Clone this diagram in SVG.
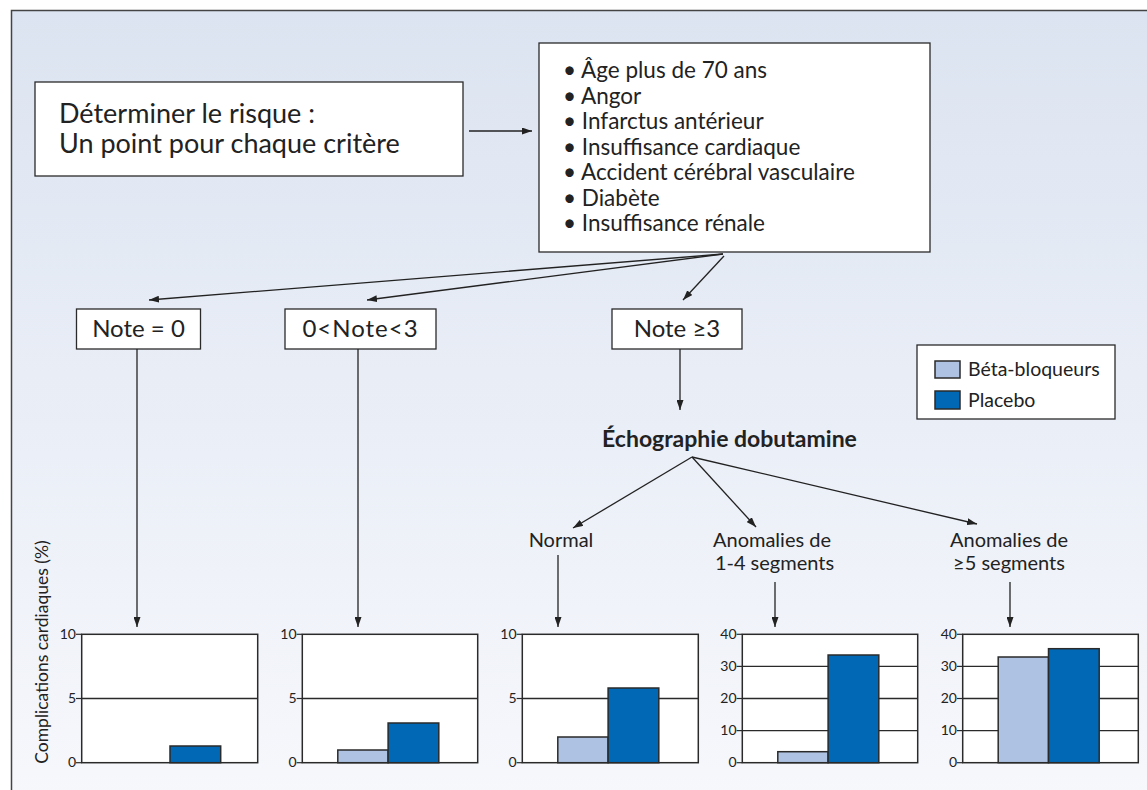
<svg xmlns="http://www.w3.org/2000/svg" width="1147" height="790" viewBox="0 0 1147 790">
<defs>
<linearGradient id="bg" x1="0" y1="0" x2="0" y2="1">
<stop offset="0" stop-color="#dce4f1"/>
<stop offset="1" stop-color="#f7f8fc"/>
</linearGradient>
<marker id="ah" viewBox="0 0 10 7" refX="10" refY="3.5" markerWidth="10" markerHeight="7" markerUnits="userSpaceOnUse" orient="auto">
<path d="M0,0 L10,3.5 L0,7 z" fill="#222"/>
</marker>
</defs>
<style>
.box{fill:#fff;stroke:#2a2a2a;stroke-width:1.3}
.t{font-family:Lato,"Open Sans",sans-serif;fill:#222}
.c{text-anchor:middle}
.conn line{stroke:#222;stroke-width:1.3;marker-end:url(#ah)}
.plot{fill:#fff;stroke:#2a2a2a;stroke-width:1.5}
.grid{stroke:#2a2a2a;stroke-width:1.3}
.tk{stroke:#2a2a2a;stroke-width:1.2}
.bb{fill:#aec3e3;stroke:#2a2a2a;stroke-width:1.5}
.pl{fill:#0068b5;stroke:#2a2a2a;stroke-width:1.5}
.tick{font-family:Lato,"Open Sans",sans-serif;font-size:14px;fill:#222;text-anchor:end}
</style>
<rect x="0" y="0" width="1147" height="790" fill="#fff"/>
<rect x="11.5" y="10.5" width="1150" height="800" fill="url(#bg)" stroke="#444" stroke-width="1.5"/>

<g id="box-risque">
<rect class="box" x="35" y="82" width="428" height="94"/>
<text class="t" x="59" y="123" font-size="27">Déterminer le risque :</text>
<text class="t" x="59" y="153" font-size="27">Un point pour chaque critère</text>
</g>

<g id="box-criteres">
<rect class="box" x="539" y="43" width="391" height="209"/>
<g class="t" font-size="22.5">
<text x="563" y="78">• Âge plus de 70 ans</text>
<text x="563" y="103.5">• Angor</text>
<text x="563" y="129">• Infarctus antérieur</text>
<text x="563" y="154.5">• Insuffisance cardiaque</text>
<text x="563" y="180">• Accident cérébral vasculaire</text>
<text x="563" y="205.5">• Diabète</text>
<text x="563" y="231">• Insuffisance rénale</text>
</g>
</g>

<g id="note0">
<rect class="box" x="76.5" y="309" width="124" height="40"/>
<text class="t c" x="138.5" y="337" font-size="24">Note = 0</text>
</g>
<g id="note1-2">
<rect class="box" x="285" y="309" width="151" height="40"/>
<text class="t c" x="360.5" y="337" font-size="24" letter-spacing="1">0&lt;Note&lt;3</text>
</g>
<g id="note3">
<rect class="box" x="612" y="309" width="130" height="40"/>
<text class="t c" x="677" y="337" font-size="24">Note ≥3</text>
</g>

<g id="echo">
<text class="t c" x="729.5" y="447" font-size="23" font-weight="bold">Échographie dobutamine</text>
</g>
<g id="normal">
<text class="t c" x="561" y="547" font-size="20">Normal</text>
</g>
<g id="anom14">
<text class="t c" x="772" y="547" font-size="20">Anomalies de</text>
<text class="t c" x="774.5" y="570" font-size="20">1-4 segments</text>
</g>
<g id="anom5">
<text class="t c" x="1009" y="547" font-size="20">Anomalies de</text>
<text class="t c" x="1009" y="570" font-size="20">≥5 segments</text>
</g>

<g id="legend">
<rect class="box" x="917" y="345" width="198" height="74"/>
<rect class="bb" x="935" y="361" width="25" height="17" stroke-width="1.3"/>
<rect class="pl" x="935" y="391" width="25" height="18" stroke-width="1.3"/>
<text class="t" x="968" y="376" font-size="19.5">Béta-bloqueurs</text>
<text class="t" x="968" y="407" font-size="19.5">Placebo</text>
</g>

<g id="connectors" class="conn">
<line x1="469" y1="131" x2="532" y2="131"/>
<line x1="723" y1="254" x2="149" y2="300"/>
<line x1="723" y1="254" x2="367" y2="300"/>
<line x1="724" y1="256" x2="683" y2="300"/>
<line x1="680" y1="349" x2="680" y2="410"/>
<line x1="692" y1="457" x2="573" y2="528"/>
<line x1="692" y1="457" x2="756" y2="527"/>
<line x1="692" y1="457" x2="977" y2="524"/>
<line x1="137" y1="349" x2="137" y2="627"/>
<line x1="358" y1="349" x2="358" y2="627"/>
<line x1="558" y1="555" x2="558" y2="627"/>
<line x1="775" y1="582" x2="775" y2="627"/>
<line x1="1010" y1="582" x2="1010" y2="627"/>
</g>

<g id="axis-label">
<text class="t c" transform="translate(48,652) rotate(-90)" font-size="17.5">Complications cardiaques (%)</text>
</g>

<g id="chart1">
<rect class="plot" x="81.7" y="634.3" width="176" height="128.4"/>
<line class="grid" x1="81.7" y1="698.5" x2="257.7" y2="698.5"/>
<rect class="pl" x="170" y="746" width="50.7" height="16.7"/>
<line class="tk" x1="76" y1="634.3" x2="81.7" y2="634.3"/>
<line class="tk" x1="76" y1="698.5" x2="81.7" y2="698.5"/>
<line class="tk" x1="76" y1="762.7" x2="81.7" y2="762.7"/>
<text class="tick" x="76" y="639">10</text>
<text class="tick" x="76" y="703">5</text>
<text class="tick" x="76" y="767">0</text>
</g>

<g id="chart2">
<rect class="plot" x="302.3" y="634.3" width="175.4" height="128.4"/>
<line class="grid" x1="302.3" y1="698.5" x2="477.7" y2="698.5"/>
<rect class="bb" x="337.8" y="750" width="50.3" height="12.7"/>
<rect class="pl" x="388.1" y="723" width="50.7" height="39.7"/>
<line class="tk" x1="296.6" y1="634.3" x2="302.3" y2="634.3"/>
<line class="tk" x1="296.6" y1="698.5" x2="302.3" y2="698.5"/>
<line class="tk" x1="296.6" y1="762.7" x2="302.3" y2="762.7"/>
<text class="tick" x="296.6" y="639">10</text>
<text class="tick" x="296.6" y="703">5</text>
<text class="tick" x="296.6" y="767">0</text>
</g>

<g id="chart3">
<rect class="plot" x="522.3" y="634.3" width="176" height="128.4"/>
<line class="grid" x1="522.3" y1="698.5" x2="698.3" y2="698.5"/>
<rect class="bb" x="557.8" y="737" width="50.3" height="25.7"/>
<rect class="pl" x="608.1" y="688" width="50.7" height="74.7"/>
<line class="tk" x1="516.6" y1="634.3" x2="522.3" y2="634.3"/>
<line class="tk" x1="516.6" y1="698.5" x2="522.3" y2="698.5"/>
<line class="tk" x1="516.6" y1="762.7" x2="522.3" y2="762.7"/>
<text class="tick" x="516.6" y="639">10</text>
<text class="tick" x="516.6" y="703">5</text>
<text class="tick" x="516.6" y="767">0</text>
</g>

<g id="chart4">
<rect class="plot" x="742.3" y="634.3" width="175.4" height="128.4"/>
<line class="grid" x1="742.3" y1="666.4" x2="917.7" y2="666.4"/>
<line class="grid" x1="742.3" y1="698.5" x2="917.7" y2="698.5"/>
<line class="grid" x1="742.3" y1="730.6" x2="917.7" y2="730.6"/>
<rect class="bb" x="777.8" y="751.7" width="50.3" height="11"/>
<rect class="pl" x="828.1" y="655" width="50.7" height="107.7"/>
<line class="tk" x1="736.6" y1="634.3" x2="742.3" y2="634.3"/>
<line class="tk" x1="736.6" y1="666.4" x2="742.3" y2="666.4"/>
<line class="tk" x1="736.6" y1="698.5" x2="742.3" y2="698.5"/>
<line class="tk" x1="736.6" y1="730.6" x2="742.3" y2="730.6"/>
<line class="tk" x1="736.6" y1="762.7" x2="742.3" y2="762.7"/>
<text class="tick" x="736.6" y="639">40</text>
<text class="tick" x="736.6" y="671">30</text>
<text class="tick" x="736.6" y="703">20</text>
<text class="tick" x="736.6" y="735">10</text>
<text class="tick" x="736.6" y="767">0</text>
</g>

<g id="chart5">
<rect class="plot" x="962.7" y="634.3" width="175.6" height="128.4"/>
<line class="grid" x1="962.7" y1="666.4" x2="1138.3" y2="666.4"/>
<line class="grid" x1="962.7" y1="698.5" x2="1138.3" y2="698.5"/>
<line class="grid" x1="962.7" y1="730.6" x2="1138.3" y2="730.6"/>
<rect class="bb" x="998.2" y="657" width="50.3" height="105.7"/>
<rect class="pl" x="1048.5" y="648.7" width="50.7" height="114"/>
<line class="tk" x1="957" y1="634.3" x2="962.7" y2="634.3"/>
<line class="tk" x1="957" y1="666.4" x2="962.7" y2="666.4"/>
<line class="tk" x1="957" y1="698.5" x2="962.7" y2="698.5"/>
<line class="tk" x1="957" y1="730.6" x2="962.7" y2="730.6"/>
<line class="tk" x1="957" y1="762.7" x2="962.7" y2="762.7"/>
<text class="tick" x="957" y="639">40</text>
<text class="tick" x="957" y="671">30</text>
<text class="tick" x="957" y="703">20</text>
<text class="tick" x="957" y="735">10</text>
<text class="tick" x="957" y="767">0</text>
</g>
</svg>
